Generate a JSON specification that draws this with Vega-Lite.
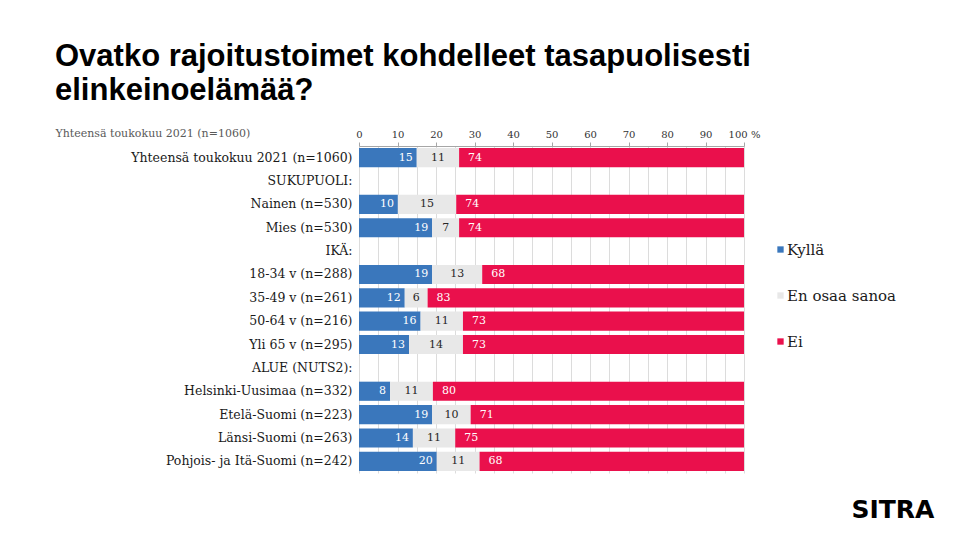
{
  "$schema": "https://vega.github.io/schema/vega-lite/v6.json",
  "autosize": "none",
  "width": 385,
  "height": 327,
  "padding": {"left": 359, "top": 146, "right": 216, "bottom": 67},
  "background": "white",
  "title": {
    "text": ["Ovatko rajoitustoimet kohdelleet tasapuolisesti", "elinkeinoelämää?"],
    "anchor": "start",
    "frame": "group",
    "dx": -304,
    "offset": 20,
    "font": "Liberation Sans",
    "fontSize": 31,
    "fontWeight": "bold",
    "lineHeight": 34,
    "color": "#000000"
  },
  "data": {
    "values": [
      {"group": "Yhteensä toukokuu 2021 (n=1060)", "cat": "Kyllä", "value": 15, "order": 1},
      {"group": "Yhteensä toukokuu 2021 (n=1060)", "cat": "En osaa sanoa", "value": 11, "order": 2},
      {"group": "Yhteensä toukokuu 2021 (n=1060)", "cat": "Ei", "value": 74, "order": 3},
      {"group": "Nainen (n=530)", "cat": "Kyllä", "value": 10, "order": 1},
      {"group": "Nainen (n=530)", "cat": "En osaa sanoa", "value": 15, "order": 2},
      {"group": "Nainen (n=530)", "cat": "Ei", "value": 74, "order": 3},
      {"group": "Mies (n=530)", "cat": "Kyllä", "value": 19, "order": 1},
      {"group": "Mies (n=530)", "cat": "En osaa sanoa", "value": 7, "order": 2},
      {"group": "Mies (n=530)", "cat": "Ei", "value": 74, "order": 3},
      {"group": "18-34 v (n=288)", "cat": "Kyllä", "value": 19, "order": 1},
      {"group": "18-34 v (n=288)", "cat": "En osaa sanoa", "value": 13, "order": 2},
      {"group": "18-34 v (n=288)", "cat": "Ei", "value": 68, "order": 3},
      {"group": "35-49 v (n=261)", "cat": "Kyllä", "value": 12, "order": 1},
      {"group": "35-49 v (n=261)", "cat": "En osaa sanoa", "value": 6, "order": 2},
      {"group": "35-49 v (n=261)", "cat": "Ei", "value": 83, "order": 3},
      {"group": "50-64 v (n=216)", "cat": "Kyllä", "value": 16, "order": 1},
      {"group": "50-64 v (n=216)", "cat": "En osaa sanoa", "value": 11, "order": 2},
      {"group": "50-64 v (n=216)", "cat": "Ei", "value": 73, "order": 3},
      {"group": "Yli 65 v (n=295)", "cat": "Kyllä", "value": 13, "order": 1},
      {"group": "Yli 65 v (n=295)", "cat": "En osaa sanoa", "value": 14, "order": 2},
      {"group": "Yli 65 v (n=295)", "cat": "Ei", "value": 73, "order": 3},
      {"group": "Helsinki-Uusimaa (n=332)", "cat": "Kyllä", "value": 8, "order": 1},
      {"group": "Helsinki-Uusimaa (n=332)", "cat": "En osaa sanoa", "value": 11, "order": 2},
      {"group": "Helsinki-Uusimaa (n=332)", "cat": "Ei", "value": 80, "order": 3},
      {"group": "Etelä-Suomi (n=223)", "cat": "Kyllä", "value": 19, "order": 1},
      {"group": "Etelä-Suomi (n=223)", "cat": "En osaa sanoa", "value": 10, "order": 2},
      {"group": "Etelä-Suomi (n=223)", "cat": "Ei", "value": 71, "order": 3},
      {"group": "Länsi-Suomi (n=263)", "cat": "Kyllä", "value": 14, "order": 1},
      {"group": "Länsi-Suomi (n=263)", "cat": "En osaa sanoa", "value": 11, "order": 2},
      {"group": "Länsi-Suomi (n=263)", "cat": "Ei", "value": 75, "order": 3},
      {"group": "Pohjois- ja Itä-Suomi (n=242)", "cat": "Kyllä", "value": 20, "order": 1},
      {"group": "Pohjois- ja Itä-Suomi (n=242)", "cat": "En osaa sanoa", "value": 11, "order": 2},
      {"group": "Pohjois- ja Itä-Suomi (n=242)", "cat": "Ei", "value": 68, "order": 3}
    ]
  },
  "transform": [
    {"stack": "value", "groupby": ["group"], "sort": [{"field": "order", "order": "ascending"}], "offset": "normalize", "as": ["x0", "x1"]},
    {"calculate": "(datum.x0 + datum.x1) / 2", "as": "mid"}
  ],
  "encoding": {
    "y": {
      "field": "group",
      "type": "nominal",
      "sort": null,
      "scale": {
        "domain": [
          "Yhteensä toukokuu 2021 (n=1060)", "SUKUPUOLI:", "Nainen (n=530)", "Mies (n=530)", "IKÄ:",
          "18-34 v (n=288)", "35-49 v (n=261)", "50-64 v (n=216)", "Yli 65 v (n=295)", "ALUE (NUTS2):",
          "Helsinki-Uusimaa (n=332)", "Etelä-Suomi (n=223)", "Länsi-Suomi (n=263)", "Pohjois- ja Itä-Suomi (n=242)"
        ],
        "paddingInner": 0.18,
        "paddingOuter": 0.09
      },
      "axis": {
        "title": "Yhteensä toukokuu 2021 (n=1060)",
        "titleAngle": 0,
        "titleX": -304,
        "titleY": -13,
        "titleAlign": "left",
        "titleBaseline": "middle",
        "titleFont": "DejaVu Serif",
        "titleFontSize": 11,
        "titleFontWeight": "normal",
        "titleColor": "#595959",
        "labelFont": "DejaVu Serif",
        "labelFontSize": 12.5,
        "labelColor": "#1a1a1a",
        "labelPadding": 7,
        "labelLimit": 320,
        "ticks": false,
        "domain": false,
        "grid": false
      }
    }
  },
  "layer": [
    {
      "mark": {"type": "bar"},
      "encoding": {
        "x": {
          "field": "x0",
          "type": "quantitative",
          "scale": {"domain": [0, 1], "nice": false},
          "axis": {
            "orient": "top",
            "title": null,
            "values": [0, 0.1, 0.2, 0.3, 0.4, 0.5, 0.6, 0.7, 0.8, 0.9, 1],
            "labelExpr": "datum.value >= 0.999 ? '100 %' : '' + round(datum.value*100)",
            "labelOverlap": false,
            "labelFlush": false,
            "labelFont": "DejaVu Serif",
            "labelFontSize": 10,
            "labelColor": "#333333",
            "labelPadding": 3,
            "tickSize": 4,
            "tickColor": "#a6a6a6",
            "domainColor": "#a6a6a6",
            "grid": false
          }
        },
        "x2": {"field": "x1"},
        "color": {
          "field": "cat",
          "type": "nominal",
          "sort": ["Kyllä", "En osaa sanoa", "Ei"],
          "scale": {"domain": ["Kyllä", "En osaa sanoa", "Ei"], "range": ["#3a77bc", "#e8e8e8", "#ea104c"]},
          "legend": {
            "title": null,
            "orient": "none",
            "legendX": 414,
            "legendY": 96,
            "symbolType": "square",
            "symbolSize": 40,
            "symbolStrokeWidth": 0,
            "labelFont": "DejaVu Serif",
            "labelFontSize": 15,
            "labelColor": "#1a1a1a",
            "labelOffset": -1,
            "rowPadding": 30
          }
        }
      }
    },
    {
      "transform": [{"filter": "datum.cat == 'Kyllä'"}],
      "mark": {"type": "text", "align": "right", "baseline": "middle", "dx": -4, "color": "#ffffff", "font": "DejaVu Serif", "fontSize": 11},
      "encoding": {
        "x": {
          "field": "x1",
          "type": "quantitative",
          "axis": {
            "orient": "bottom",
            "values": [0, 0.05, 0.1, 0.15, 0.2, 0.25, 0.3, 0.35, 0.4, 0.45, 0.5, 0.55, 0.6, 0.65, 0.7, 0.75, 0.8, 0.85, 0.9, 0.95, 1],
            "grid": true,
            "gridColor": "#dcdcdc",
            "gridWidth": 1,
            "labels": false,
            "ticks": false,
            "domain": false,
            "title": "SITRA",
            "titleX": 492,
            "titleY": 44,
            "titleAlign": "left",
            "titleBaseline": "alphabetic",
            "titleFont": "DejaVu Sans",
            "titleFontSize": 25,
            "titleFontWeight": "bold",
            "titleColor": "#000000"
          }
        },
        "text": {"field": "value", "type": "quantitative"}
      }
    },
    {
      "transform": [{"filter": "datum.cat == 'En osaa sanoa'"}],
      "mark": {"type": "text", "align": "center", "baseline": "middle", "color": "#262626", "font": "DejaVu Serif", "fontSize": 11},
      "encoding": {
        "x": {"field": "mid", "type": "quantitative", "axis": null},
        "text": {"field": "value", "type": "quantitative"}
      }
    },
    {
      "transform": [{"filter": "datum.cat == 'Ei'"}],
      "mark": {"type": "text", "align": "left", "baseline": "middle", "dx": 9, "color": "#ffffff", "font": "DejaVu Serif", "fontSize": 11},
      "encoding": {
        "x": {"field": "x0", "type": "quantitative", "axis": null},
        "text": {"field": "value", "type": "quantitative"}
      }
    }
  ],
  "resolve": {"axis": {"x": "independent"}},
  "config": {
    "view": {"stroke": null}
  }
}
